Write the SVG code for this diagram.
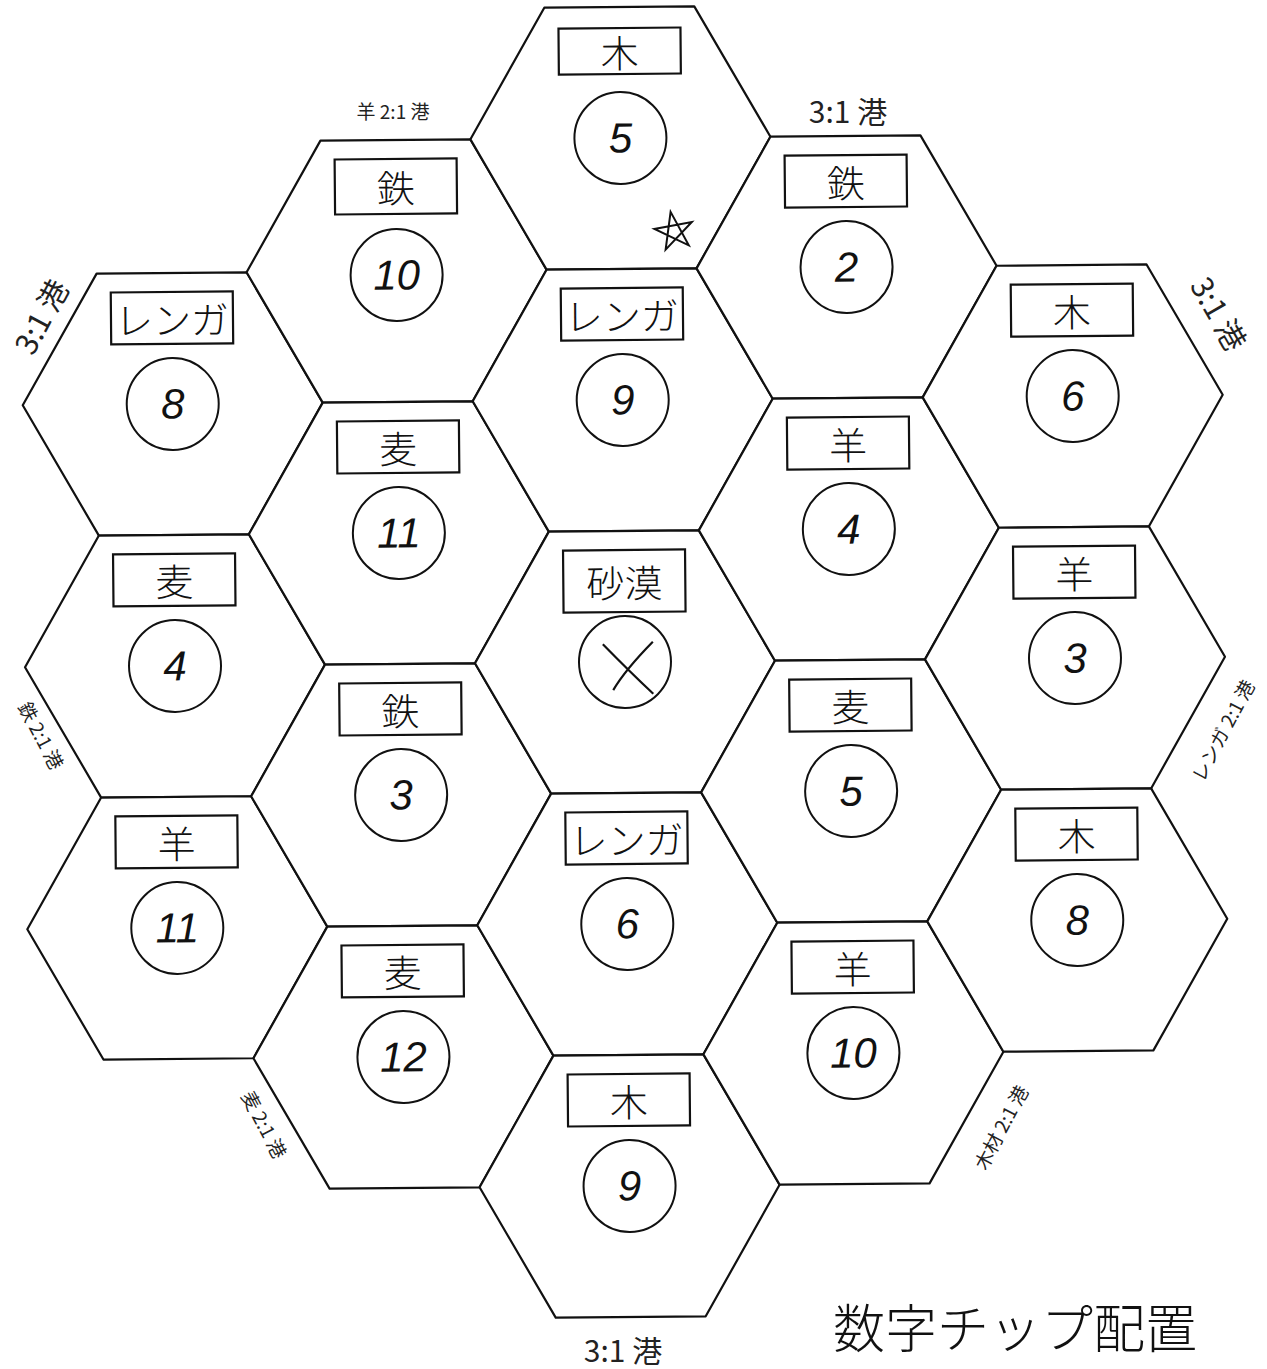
<svg xmlns="http://www.w3.org/2000/svg" width="1267" height="1369" viewBox="0 0 1267 1369">
<style>
.hex{fill:#fff;stroke:#111;stroke-width:2.2;stroke-linejoin:round}
.box{fill:#fff;stroke:#111;stroke-width:2.2}
.chip{fill:#fff;stroke:#111;stroke-width:2}
.res{font-family:"Noto Sans CJK JP","Noto Sans CJK SC",sans-serif;font-size:38px;font-weight:300;fill:#111;text-anchor:middle;dominant-baseline:central}
.num{font-family:"Liberation Sans","DejaVu Sans",sans-serif;font-size:42px;font-style:italic;fill:#111;text-anchor:middle;dominant-baseline:central}
.port{font-family:"Noto Sans CJK JP","Noto Sans CJK SC",sans-serif;fill:#222;text-anchor:middle;dominant-baseline:central}
.big{font-size:30px}
.small{font-size:19px}
.title{font-family:"Noto Sans CJK JP","Noto Sans CJK SC",sans-serif;font-size:52px;font-weight:300;fill:#111;text-anchor:middle;dominant-baseline:central}
</style>
<defs>
<polygon id="hexshape" class="hex" points="-150,0 -75,-131 75,-131 150,0 75,131 -75,131"/>
</defs>
<g id="board" transform="translate(2,0) rotate(-0.5 623 662)">
<g id="col1">
<g id="hex-brick-8" transform="translate(173,400)"><use href="#hexshape"/><rect class="box" x="-61" y="-112" width="122" height="52"/><text class="res" y="-86">レンガ</text><circle class="chip" r="46"/><text class="num">8</text></g>
<g id="hex-wheat-4" transform="translate(173,662)"><use href="#hexshape"/><rect class="box" x="-61" y="-112" width="122" height="52"/><text class="res" y="-86">麦</text><circle class="chip" r="46"/><text class="num">4</text></g>
<g id="hex-sheep-11" transform="translate(173,924)"><use href="#hexshape"/><rect class="box" x="-61" y="-112" width="122" height="52"/><text class="res" y="-86">羊</text><circle class="chip" r="46"/><text class="num">11</text></g>
</g>
<g id="col2">
<g id="hex-iron-10" transform="translate(398,269)"><use href="#hexshape"/><rect class="box" x="-61" y="-112" width="122" height="55"/><text class="res" y="-85">鉄</text><circle class="chip" cy="4" r="46"/><text class="num" y="4">10</text></g>
<g id="hex-wheat-11" transform="translate(398,531)"><use href="#hexshape"/><rect class="box" x="-61" y="-112" width="122" height="52"/><text class="res" y="-86">麦</text><circle class="chip" r="46"/><text class="num">11</text></g>
<g id="hex-iron-3" transform="translate(398,793)"><use href="#hexshape"/><rect class="box" x="-61" y="-112" width="122" height="52"/><text class="res" y="-86">鉄</text><circle class="chip" r="46"/><text class="num">3</text></g>
<g id="hex-wheat-12" transform="translate(398,1055)"><use href="#hexshape"/><rect class="box" x="-61" y="-112" width="122" height="52"/><text class="res" y="-86">麦</text><circle class="chip" r="46"/><text class="num">12</text></g>
</g>
<g id="col3">
<g id="hex-wood-5" transform="translate(623,138)"><use href="#hexshape"/><rect class="box" x="-61" y="-110" width="122" height="46"/><text class="res" y="-87">木</text><circle class="chip" r="46"/><text class="num">5</text></g>
<g id="hex-brick-9" transform="translate(623,400)"><use href="#hexshape"/><rect class="box" x="-61" y="-112" width="122" height="52"/><text class="res" y="-86">レンガ</text><circle class="chip" r="46"/><text class="num">9</text></g>
<g id="hex-desert" transform="translate(623,662)"><use href="#hexshape"/><rect class="box" x="-61" y="-112" width="122" height="62"/><text class="res" y="-81">砂漠</text><circle class="chip" r="46"/><path d="M-22,-18 Q5,10 28,32 M28,-20 Q0,8 -12,28" fill="none" stroke="#111" stroke-width="2.2"/></g>
<g id="hex-brick-6" transform="translate(623,924)"><use href="#hexshape"/><rect class="box" x="-61" y="-112" width="122" height="52"/><text class="res" y="-86">レンガ</text><circle class="chip" r="46"/><text class="num">6</text></g>
<g id="hex-wood-9" transform="translate(623,1186)"><use href="#hexshape"/><rect class="box" x="-61" y="-112" width="122" height="52"/><text class="res" y="-86">木</text><circle class="chip" r="46"/><text class="num">9</text></g>
</g>
<g id="col4">
<g id="hex-iron-2" transform="translate(848,269)"><use href="#hexshape"/><rect class="box" x="-61" y="-112" width="122" height="52"/><text class="res" y="-86">鉄</text><circle class="chip" r="46"/><text class="num">2</text></g>
<g id="hex-sheep-4" transform="translate(848,531)"><use href="#hexshape"/><rect class="box" x="-61" y="-112" width="122" height="52"/><text class="res" y="-86">羊</text><circle class="chip" r="46"/><text class="num">4</text></g>
<g id="hex-wheat-5" transform="translate(848,793)"><use href="#hexshape"/><rect class="box" x="-61" y="-112" width="122" height="52"/><text class="res" y="-86">麦</text><circle class="chip" r="46"/><text class="num">5</text></g>
<g id="hex-sheep-10" transform="translate(848,1055)"><use href="#hexshape"/><rect class="box" x="-61" y="-112" width="122" height="52"/><text class="res" y="-86">羊</text><circle class="chip" r="46"/><text class="num">10</text></g>
</g>
<g id="col5">
<g id="hex-wood-6" transform="translate(1073,400)"><use href="#hexshape"/><rect class="box" x="-61" y="-112" width="122" height="52"/><text class="res" y="-86">木</text><circle class="chip" r="46"/><text class="num">6</text></g>
<g id="hex-sheep-3" transform="translate(1073,662)"><use href="#hexshape"/><rect class="box" x="-61" y="-112" width="122" height="52"/><text class="res" y="-86">羊</text><circle class="chip" r="46"/><text class="num">3</text></g>
<g id="hex-wood-8" transform="translate(1073,924)"><use href="#hexshape"/><rect class="box" x="-61" y="-112" width="122" height="52"/><text class="res" y="-86">木</text><circle class="chip" r="46"/><text class="num">8</text></g>
</g>
<g id="robber-star" transform="translate(676,232) rotate(-10)"><path d="M0,-20 L11.76,16.18 L-19.02,-6.18 L19.02,-6.18 L-11.76,16.18 Z" fill="none" stroke="#111" stroke-width="2"/></g>
</g>
<g id="ports">
<text class="port small" x="393" y="110">羊 2:1 港</text>
<text class="port big" x="848" y="110">3:1 港</text>
<text class="port big" transform="translate(40,316) rotate(-62)">3:1 港</text>
<text class="port big" transform="translate(1220,313) rotate(60)">3:1 港</text>
<text class="port small" transform="translate(42,735) rotate(62)">鉄 2:1 港</text>
<text class="port small" transform="translate(1222,730) rotate(-62)">レンガ 2:1 港</text>
<text class="port small" transform="translate(265,1124) rotate(62)">麦 2:1 港</text>
<text class="port small" transform="translate(1000,1127) rotate(-62)">木材 2:1 港</text>
<text class="port big" x="623" y="1349">3:1 港</text>
</g>
<text class="title" x="1015" y="1325">数字チップ配置</text>
</svg>
